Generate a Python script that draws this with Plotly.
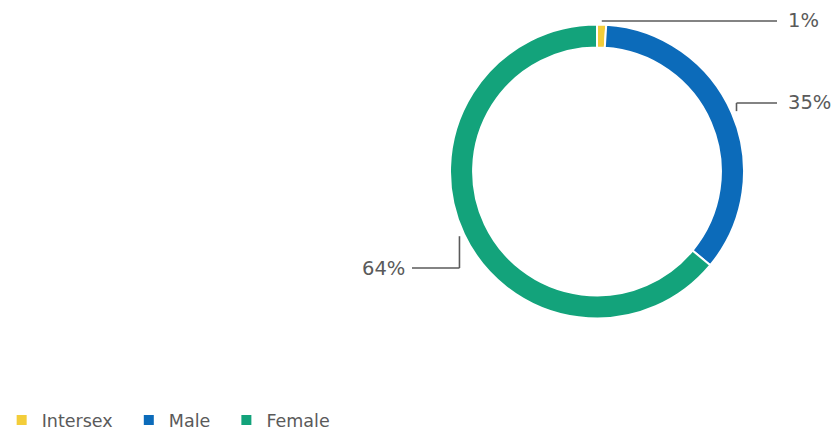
import math
import plotly.graph_objects as go

labels = ["Intersex", "Male", "Female"]
values = [1, 35, 64]
colors = ["#F3CD3A", "#0C6BBA", "#13A37B"]
text_labels = ["1%", "35%", "64%"]

W, H = 831, 433
CX, CY, R = 597, 171.5, 147
HOLE = 0.843
FONT = "DejaVu Sans, Verdana, sans-serif"
GRAY = "#5a5a5a"

def px(x):
    return x / W

def py(y):
    return 1 - y / H

fig = go.Figure()
fig.add_trace(go.Pie(
    labels=[l + "\u00a0\u00a0" for l in labels], values=values, sort=False,
    direction="clockwise", rotation=0,
    hole=HOLE, textinfo="none", hoverinfo="label+percent",
    marker=dict(colors=colors, line=dict(color="white", width=2)),
    domain=dict(x=[px(CX - R), px(CX + R)], y=[py(CY + R), py(CY - R)]),
))

# leader lines computed from slice mid-angles
label_y = [21, 103, 268]      # label rows (px)
right_x, left_x = 777, 412    # ends of horizontal leader segments (px)
total = sum(values)
cum = 0
shapes, annotations = [], []
for v, t, ly in zip(values, text_labels, label_y):
    mid = (cum + v / 2) / total * 2 * math.pi
    cum += v
    sx = CX + (R + 5) * math.sin(mid)
    sy = CY - (R + 5) * math.cos(mid)
    right = math.sin(mid) >= 0
    ex = right_x if right else left_x
    if abs(ly - sy) > 4:
        shapes.append(dict(type="line", xref="paper", yref="paper",
                           x0=px(sx), y0=py(sy), x1=px(sx), y1=py(ly),
                           line=dict(color=GRAY, width=1.6)))
    shapes.append(dict(type="line", xref="paper", yref="paper",
                       x0=px(sx), y0=py(ly), x1=px(ex), y1=py(ly),
                       line=dict(color=GRAY, width=1.6)))
    annotations.append(dict(
        x=px(ex + 9 if right else ex - 5), y=py(ly), xref="paper", yref="paper",
        text=t, showarrow=False, xanchor="left" if right else "right", yanchor="middle",
        font=dict(family=FONT, size=19.5, color=GRAY),
    ))

fig.update_layout(
    width=W, height=H,
    margin=dict(l=0, r=0, t=0, b=0, autoexpand=False),
    paper_bgcolor="white", plot_bgcolor="white",
    shapes=shapes, annotations=annotations,
    showlegend=True,
    legend=dict(orientation="h", x=0.002, y=py(420), xanchor="left", yanchor="middle",
                font=dict(family=FONT, size=17.5, color=GRAY),
                itemwidth=30, traceorder="normal"),
    font=dict(family=FONT),
)

fig.write_html("out.html", config={"displayModeBar": False},
               post_script="document.body.style.margin='0px';")
